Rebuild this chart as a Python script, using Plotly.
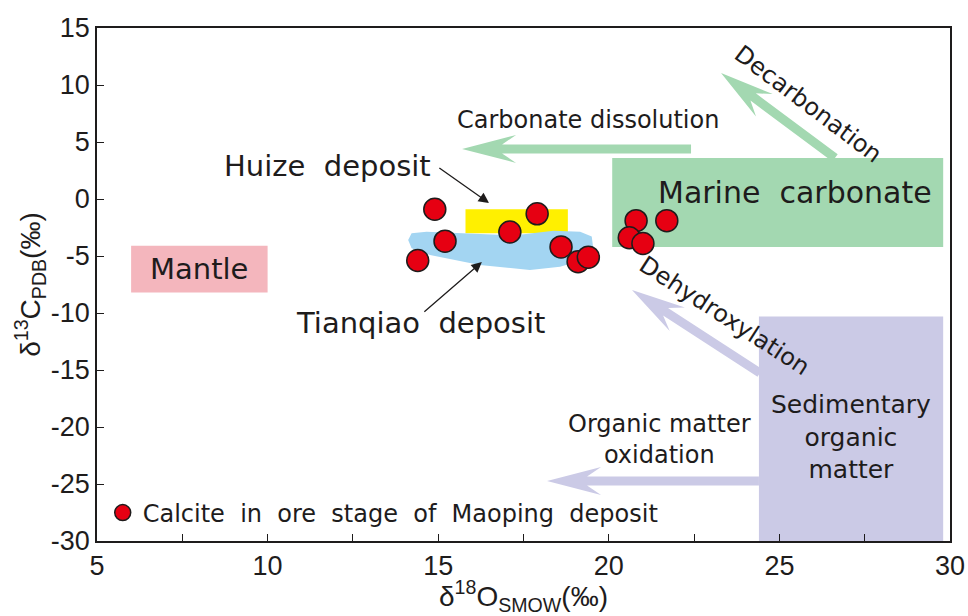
import plotly.graph_objects as go

# ---------------- data ----------------
calcite_d18O = [14.9, 15.2, 14.4, 17.9, 17.1, 18.6, 19.1, 19.4, 20.8, 20.6, 21.0, 21.7]
calcite_d13C = [-0.9, -3.7, -5.4, -1.3, -2.9, -4.2, -5.5, -5.1, -1.9, -3.4, -3.9, -1.9]

mantle_x = [6.0, 10.0]
mantle_y = [-8.2, -4.1]
marine_x = [20.1, 29.8]
marine_y = [-4.2, 3.6]
sedimentary_x = [24.4, 29.8]
sedimentary_y = [-30.0, -10.3]
huize_x = [15.8, 18.8]
huize_y = [-3.0, -0.9]
tianqiao_x = [14.12, 14.22, 14.66, 15.84, 17.2, 18.38, 19.16, 19.5, 19.55, 19.25, 18.57, 17.69, 16.22, 14.76, 14.22]
tianqiao_y = [-3.6, -3.0, -2.87, -3.05, -3.2, -2.78, -2.87, -3.3, -4.47, -5.35, -5.94, -6.23, -5.79, -4.91, -4.32]

# process arrows: name, tail (x, y), tip (x, y)
arrow_names = ["Carbonate dissolution", "Decarbonation", "Dehydroxylation", "Organic matter oxidation"]
arrow_tail_x = [22.41, 26.63, 24.43, 24.4]
arrow_tail_y = [4.39, 3.6, -15.26, -24.74]
arrow_tip_x = [15.70, 23.29, 20.68, 18.19]
arrow_tip_y = [4.39, 11.05, -7.98, -24.74]

x_tickvals = [5, 7.5, 10, 12.5, 15, 17.5, 20, 22.5, 25, 27.5, 30]
x_ticktext = ["5", "", "10", "", "15", "", "20", "", "25", "", "30"]
y_tickvals = [-30, -25, -20, -15, -10, -5, 0, 5, 10, 15]
y_ticktext = ["-30", "-25", "-20", "-15", "-10", "-5", "0", "5", "10", "15"]

# ---------------- styling ----------------
W, H = 968, 616
ML, MR, MT, MB = 97, 18, 28, 75
XR, YR = [5, 30], [-30, 15]
PPX = (W - ML - MR) / (XR[1] - XR[0])
PPY = (H - MT - MB) / (YR[1] - YR[0])

GREEN = "#a3d8b1"
LAV = "#cbcae6"
PINK = "#f4b6bd"
YELLOW = "#fff000"
BLUE = "#a3d5f2"
RED = "#e60012"
INK = "#1e1c1c"
TXT = "DejaVu Sans, Liberation Sans, Arial"
NUM = "Liberation Sans, Arial"


def rect(xs, ys):
    return [xs[0], xs[1], xs[1], xs[0], xs[0]], [ys[0], ys[0], ys[1], ys[1], ys[0]]


def arrow_poly(tx, ty, hx, hy, shaft=4.5, head_len=54, notch=40, head_w=14):
    vx = (hx - tx) * PPX
    vy = (hy - ty) * PPY
    L = (vx ** 2 + vy ** 2) ** 0.5
    ux, uy = vx / L, vy / L
    nx, ny = -uy, ux
    pts = [(0, shaft), (L - notch, shaft), (L - head_len, head_w), (L, 0),
           (L - head_len, -head_w), (L - notch, -shaft), (0, -shaft), (0, shaft)]
    xs, ys = [], []
    for a, b in pts:
        px = a * ux + b * nx
        py = a * uy + b * ny
        xs.append(tx + px / PPX)
        ys.append(ty + py / PPY)
    return xs, ys


fig = go.Figure()


def add_region(xs, ys, color, name):
    fig.add_trace(go.Scatter(x=xs, y=ys, mode="lines", fill="toself", fillcolor=color,
                             line=dict(width=0, color=color), hoverinfo="skip",
                             showlegend=False, name=name))


add_region(*rect(mantle_x, mantle_y), PINK, "Mantle")
add_region(*rect(huize_x, huize_y), YELLOW, "Huize deposit")
add_region(tianqiao_x + [tianqiao_x[0]], tianqiao_y + [tianqiao_y[0]], BLUE, "Tianqiao deposit")

arrow_colors = [GREEN, GREEN, LAV, LAV]
for i, nm in enumerate(arrow_names):
    ax_, ay_ = arrow_poly(arrow_tail_x[i], arrow_tail_y[i], arrow_tip_x[i], arrow_tip_y[i])
    add_region(ax_, ay_, arrow_colors[i], nm)

add_region(*rect(marine_x, marine_y), GREEN, "Marine carbonate")
add_region(*rect(sedimentary_x, sedimentary_y), LAV, "Sedimentary organic matter")

fig.add_trace(go.Scatter(
    x=calcite_d18O, y=calcite_d13C, mode="markers",
    name="Calcite\u00a0 in\u00a0 ore\u00a0 stage\u00a0 of\u00a0 Maoping\u00a0 deposit",
    marker=dict(size=22, color=RED, line=dict(color=INK, width=1.5)),
    showlegend=True,
))

# ---------------- annotations ----------------
ann = []


def label(x, y, text, size, angle=0):
    ann.append(dict(x=x, y=y, xref="x", yref="y", text=text, showarrow=False,
                    textangle=angle, font=dict(family=TXT, size=size, color=INK),
                    xanchor="center", yanchor="middle"))


label(8.0, -6.1, "Mantle", 29)
label(25.45, 0.55, "Marine\u00a0 carbonate", 30)
label(27.1, -20.9, "Sedimentary<br>organic<br>matter", 25)
label(11.77, 2.89, "Huize\u00a0 deposit", 29)
label(14.47, -10.88, "Tianqiao\u00a0 deposit", 29)
label(19.39, 6.93, "Carbonate dissolution", 24)
label(21.5, -21.1, "Organic matter<br>oxidation", 24)
label(25.84, 8.35, "Decarbonation", 24, angle=37)
label(23.4, -10.26, "Dehydroxylation", 24, angle=33)

# pointer arrows to deposit fields
for tipx, tipy, tlx, tly in [(16.49, -0.35, 14.99, 2.81), (16.28, -5.53, 14.55, -10.0)]:
    ann.append(dict(x=tipx, y=tipy, ax=tlx, ay=tly, xref="x", yref="y", axref="x", ayref="y",
                    text="", showarrow=True, arrowhead=2, arrowsize=1.6, arrowwidth=1.3,
                    arrowcolor=INK))

axis_common = dict(showline=True, linecolor=INK, linewidth=1.5, mirror=True, ticks="inside",
                   ticklen=7, tickwidth=1.3, tickcolor=INK, showgrid=False, zeroline=False,
                   automargin=False,
                   tickfont=dict(family=NUM, size=27, color=INK))

fig.update_layout(
    width=W, height=H,
    margin=dict(l=ML, r=MR, t=MT, b=MB, autoexpand=False),
    paper_bgcolor="white", plot_bgcolor="white",
    xaxis=dict(range=XR, tickvals=x_tickvals, ticktext=x_ticktext,
               title=dict(text="δ<sup>18</sup>O<sub>SMOW</sub>(‰)",
                          font=dict(family=NUM, size=28, color=INK), standoff=4),
               **axis_common),
    yaxis=dict(range=YR, tickvals=y_tickvals, ticktext=y_ticktext,
               title=dict(text="δ<sup>13</sup>C<sub>PDB</sub>(‰)",
                          font=dict(family=NUM, size=28, color=INK), standoff=2),
               **axis_common),
    legend=dict(x=0.0067, y=0.0546, xanchor="left", yanchor="middle",
                bgcolor="rgba(0,0,0,0)", font=dict(family=TXT, size=24, color=INK)),
    annotations=ann,
    showlegend=True,
)

fig.write_html("out.html", config={"displayModeBar": False},
               post_script="document.body.style.margin='0';document.body.style.overflow='hidden';")
